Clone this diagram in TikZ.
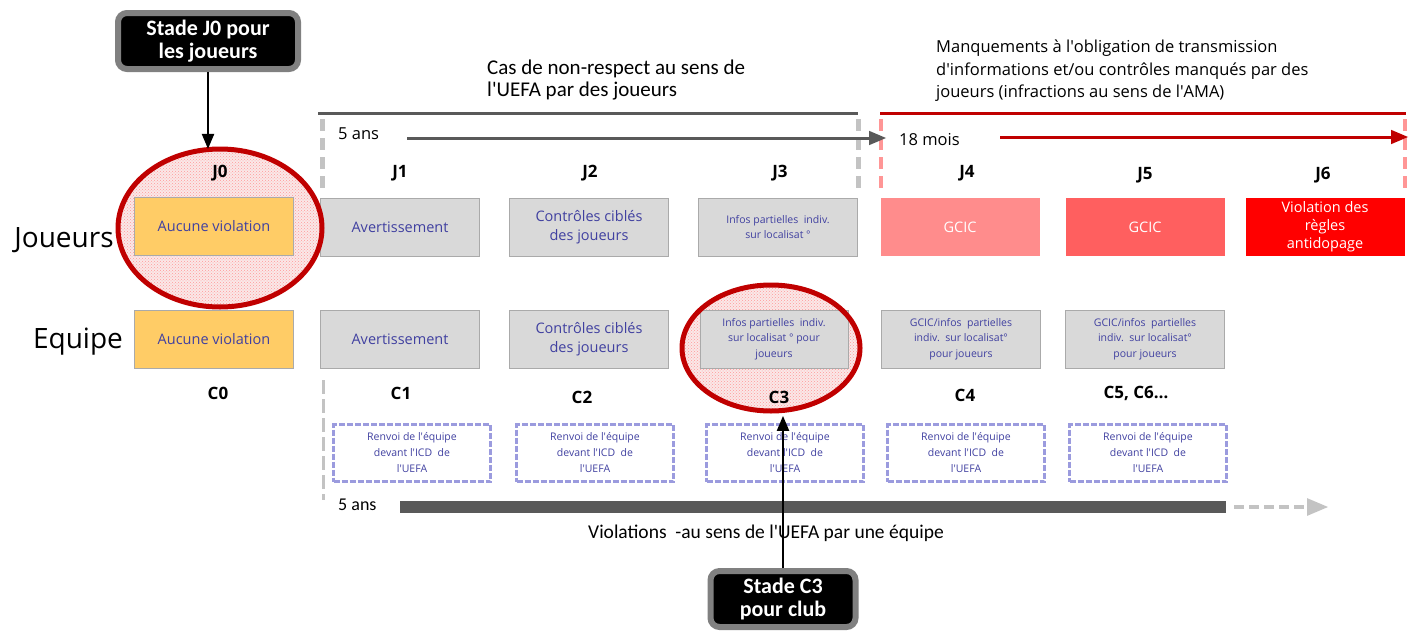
\documentclass[tikz,border=0pt]{standalone}
\usepackage{fontspec}
\setmainfont{Open Sans}
\newfontfamily\calibri{Carlito}
\usepackage{xcolor}
\usetikzlibrary{shapes.geometric}
\usetikzlibrary{patterns}
\usetikzlibrary{arrows}
\definecolor{boxtext}{RGB}{64,64,160}
\definecolor{boxgrey}{RGB}{217,217,217}
\definecolor{boxedge}{RGB}{170,170,170}
\definecolor{nogold}{RGB}{255,204,102}
\definecolor{gcicone}{RGB}{255,140,140}
\definecolor{gcictwo}{RGB}{255,95,95}
\definecolor{dopred}{RGB}{255,0,0}
\definecolor{ringred}{RGB}{192,0,0}
\definecolor{ringpink}{RGB}{250,232,232}
\definecolor{rulegrey}{RGB}{89,89,89}
\definecolor{dashgrey}{RGB}{195,195,195}
\definecolor{dashpink}{RGB}{255,150,150}
\definecolor{renvoiedge}{RGB}{155,155,222}
\definecolor{stadegrey}{RGB}{128,128,128}
\tikzset{
	main box/.style={draw=boxedge,line width=0.8pt,minimum width=159pt,minimum height=58pt,
		inner sep=2pt,align=center,text=boxtext,font=\fontsize{14.5}{19}\selectfont},
	grey box/.style={main box,fill=boxgrey},
	gold box/.style={main box,fill=nogold},
	small box/.style={grey box,font=\fontsize{10.5}{15.5}\selectfont},
	gcic box/.style={main box,draw=none,text=white},
	renvoi box/.style={draw=renvoiedge,line width=3pt,dash pattern=on 6pt off 2pt,
		minimum width=157pt,minimum height=57pt,align=center,text=boxtext,
		font=\fontsize{10.5}{16}\selectfont},
	stage label/.style={font=\bfseries\fontsize{17}{20}\selectfont},
	row label/.style={font=\fontsize{28}{32}\selectfont},
	stade box/.style={draw=stadegrey,line width=6pt,fill=black,rounded corners=9pt,text=white,
		align=center,minimum width=150pt,minimum height=56pt,
		font=\calibri\bfseries\fontsize{22}{23}\selectfont},
	ring fill/.style={ellipse,inner sep=0pt,fill=ringpink,
		postaction={pattern=crosshatch dots,pattern color=red!40}},
	ring line/.style={draw=ringred,line width=5pt},
	head/.style={align=left,inner sep=0pt,font=\fontsize{16.5}{22.5}\selectfont},
	head calibri/.style={align=left,inner sep=0pt,font=\calibri\fontsize{21}{21.5}\selectfont},
	grey rule/.style={draw=rulegrey,line width=3pt},
	red rule/.style={draw=ringred,line width=3pt},
	grey dash/.style={draw=dashgrey,line width=5pt,dash pattern=on 12pt off 7pt},
	pink dash/.style={draw=dashpink,line width=4pt,dash pattern=on 12pt off 7pt}
}

\begin{document}
\begin{tikzpicture}[x=1pt,y=-1pt,>=triangle 45]
	\useasboundingbox (0,0) rectangle (1416,632);
	% headers above the timelines
	\node [head calibri,anchor=north west] (casuefa) at (487,60) {Cas de non-respect au sens de\\l'UEFA par des joueurs};
	\node [head,anchor=north west] (manquements) at (936,40) {Manquements à l\textquotesingle obligation de transmission\\d\textquotesingle informations et/ou contrôles manqués par des\\joueurs (infractions au sens de l\textquotesingle AMA)};
	% timelines of the players
	\coordinate (uefa west) at (318,113);
	\coordinate (uefa east) at (858,113);
	\coordinate (ama west) at (880,113);
	\coordinate (ama east) at (1406,113);
	\draw [grey rule] (uefa west) -- (uefa east);
	\draw [red rule] (ama west) -- (ama east);
	\draw [grey dash] (322,119) -- (322,188);
	\draw [grey dash] (858,119) -- (858,188);
	\draw [pink dash] (881,119) -- (881,188);
	\draw [pink dash] (1405,119) -- (1405,188);
	\node [head,anchor=west] (cinqans) at (338,134) {5 ans};
	\node [head,anchor=west] (dixhuit) at (899,140) {18 mois};
	\coordinate (cinq from) at (407,138);
	\coordinate (cinq to) at (886,138);
	\coordinate (dixhuit from) at (1000,137);
	\coordinate (dixhuit to) at (1408,137);
	\draw [->,draw=rulegrey,line width=3pt] (cinq from) -- (cinq to);
	\draw [->,draw=ringred,line width=3pt] (dixhuit from) -- (dixhuit to);
	% circled stages (fill)
	\node [ring fill,minimum width=204pt,minimum height=158pt] (ringj0) at (220,228) {};
	\node [ring fill,minimum width=180pt,minimum height=128pt] (ringc3) at (771,348) {};
	% players row
	\node [row label] (joueurs) at (64,240) {Joueurs};
	\node [stage label] (lj0) at (220,173) {J0};
	\node [stage label] (lj1) at (400,173) {J1};
	\node [stage label] (lj2) at (590,173) {J2};
	\node [stage label] (lj3) at (780,173) {J3};
	\node [stage label] (lj4) at (967,173) {J4};
	\node [stage label] (lj5) at (1145,175) {J5};
	\node [stage label] (lj6) at (1323,175) {J6};
	\node [gold box] (j0) at (214,226) {Aucune violation};
	\node [grey box] (j1) at (400,227) {Avertissement};
	\node [grey box] (j2) at (589,227) {Contrôles ciblés\\des joueurs};
	\node [small box] (j3) at (778,227) {Infos partielles\ \ indiv.\\sur localisat °};
	\node [gcic box,fill=gcicone] (j4) at (960,227) {GCIC};
	\node [gcic box,fill=gcictwo] (j5) at (1145,227) {GCIC};
	\node [gcic box,fill=dopred,font=\fontsize{14.5}{18}\selectfont] (j6) at (1325,227) {Violation des\\règles\\antidopage};
	% team row
	\node [row label] (equipe) at (78,342) {Equipe};
	\node [gold box] (c0) at (214,339) {Aucune violation};
	\node [grey box] (c1) at (400,339) {Avertissement};
	\node [grey box] (c2) at (589,339) {Contrôles ciblés\\des joueurs};
	\node [small box,minimum width=148pt] (c3) at (774,339) {Infos partielles\ \ indiv.\\sur localisat ° pour\\joueurs};
	\node [small box] (c4) at (961,339) {GCIC/infos\ \ partielles\\indiv.\ \ sur localisat°\\pour joueurs};
	\node [small box] (c5) at (1145,339) {GCIC/infos\ \ partielles\\indiv.\ \ sur localisat°\\pour joueurs};
	\node [stage label] (lc0) at (218,393) {C0};
	\node [stage label] (lc1) at (401,393) {C1};
	\node [stage label] (lc2) at (582,397) {C2};
	\node [stage label] (lc3) at (779,397) {C3};
	\node [stage label] (lc4) at (965,395) {C4};
	\node [stage label] (lc5) at (1136,393) {C5, C6\dots};
	\node [renvoi box] (r1) at (412,453) {Renvoi de l\textquotesingle équipe\\devant l\textquotesingle ICD\ \ de\\l\textquotesingle UEFA};
	\node [renvoi box] (r2) at (595,453) {Renvoi de l\textquotesingle équipe\\devant l\textquotesingle ICD\ \ de\\l\textquotesingle UEFA};
	\node [renvoi box] (r3) at (785,453) {Renvoi de l\textquotesingle équipe\\devant l\textquotesingle ICD\ \ de\\l\textquotesingle UEFA};
	\node [renvoi box] (r4) at (966,453) {Renvoi de l\textquotesingle équipe\\devant l\textquotesingle ICD\ \ de\\l\textquotesingle UEFA};
	\node [renvoi box] (r5) at (1148,453) {Renvoi de l\textquotesingle équipe\\devant l\textquotesingle ICD\ \ de\\l\textquotesingle UEFA};
	% circled stages (outline)
	\draw [ring line] (ringj0.center) ellipse [x radius=102,y radius=79];
	\draw [ring line] (ringc3.center) ellipse [x radius=89,y radius=63];
	% timeline of the team
	\draw [grey dash,line width=3pt,dash pattern=on 14pt off 5pt] (323,380) -- (323,500);
	\node [head calibri,font=\calibri\fontsize{18}{20}\selectfont,anchor=west] (cinqequipe) at (338,505) {5 ans};
	\coordinate (equipe from) at (400,507);
	\coordinate (equipe to) at (1226,507);
	\coordinate (equipe more) at (1328,507);
	\draw [draw=rulegrey,line width=12pt] (equipe from) -- (equipe to);
	\draw [->,draw=dashgrey,line width=4pt,dash pattern=on 10pt off 5pt] (equipe to) ++(8,0) -- (equipe more);
	\node [head calibri,font=\calibri\fontsize{19.5}{21}\selectfont] (violations) at (766,533) {Violations\ \ -au sens de l'UEFA par une équipe};
	% stage markers
	\node [stade box,minimum width=180pt] (stadej) at (208,41) {Stade J0 pour\\les joueurs};
	\node [stade box,minimum width=145pt] (stadec) at (783,599) {Stade C3\\pour club};
	\draw [->,line width=2.5pt] (stadej.south) -- (stadej.south |- ringj0.north);
	\draw [->,line width=2.5pt] (stadec.north) -- ++(0,-152);
\end{tikzpicture}
\end{document}
